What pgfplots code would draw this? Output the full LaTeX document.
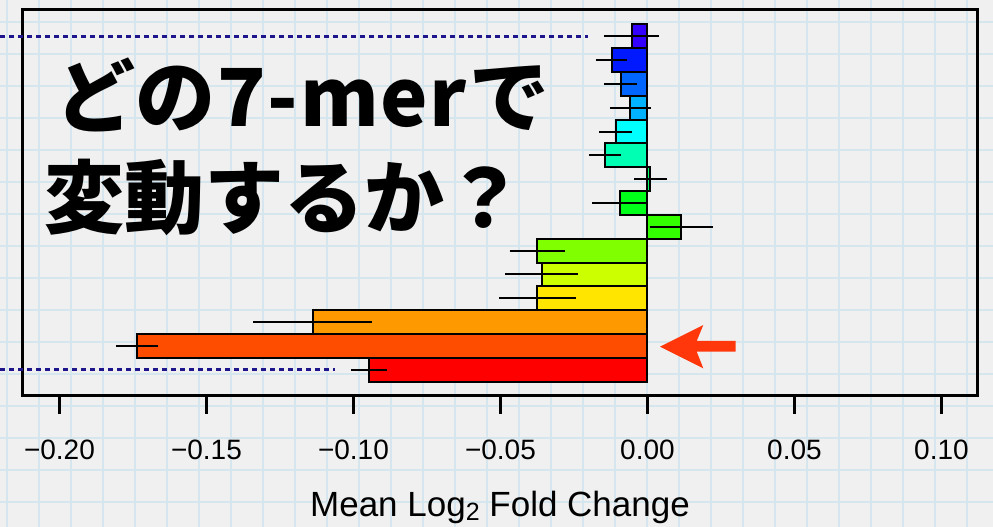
\documentclass[border=0pt]{standalone}
\usepackage{pgfplots}
\pgfplotsset{compat=1.18}
\usepackage{fontspec}
\setmainfont{Liberation Sans}
\newfontfamily\jp{Noto Sans CJK JP}

\definecolor{bgcol}{RGB}{240,240,240}
\definecolor{gridcol}{RGB}{214,230,239}
\definecolor{navydot}{RGB}{30,20,140}
\definecolor{arrowred}{RGB}{255,55,10}
% rainbow, red at the bottom to violet at the top
\definecolor{c01}{HTML}{FF0000}
\definecolor{c02}{HTML}{FF4D00}
\definecolor{c03}{HTML}{FF9900}
\definecolor{c04}{HTML}{FFE500}
\definecolor{c05}{HTML}{CCFF00}
\definecolor{c06}{HTML}{80FF00}
\definecolor{c07}{HTML}{33FF00}
\definecolor{c08}{HTML}{00FF19}
\definecolor{c09}{HTML}{00FF66}
\definecolor{c10}{HTML}{00FFB2}
\definecolor{c11}{HTML}{00FFFF}
\definecolor{c12}{HTML}{00B2FF}
\definecolor{c13}{HTML}{0066FF}
\definecolor{c14}{HTML}{0019FF}
\definecolor{c15}{HTML}{3300FF}

\pgfplotsset{
  kbar/.style={xbar, bar width=1, bar shift=0pt, draw=black, line width=2pt,
    error bars/x dir=both, error bars/x explicit, error bars/error mark=none,
    error bars/error bar style={line width=2pt, black}},
  dotline/.style={navydot, line width=3.2pt, dash pattern=on 5pt off 4pt, forget plot},
}

\begin{document}
\begin{tikzpicture}[x=1pt,y=1pt]
\useasboundingbox (0,0) rectangle (993,527);
\fill[bgcol] (0,0) rectangle (993,527);
% graph paper
\foreach \gx in {0,...,30}
  \draw[gridcol, line width=1.8pt] ({7.3+32*\gx},0) -- ({7.3+32*\gx},527);
\foreach \gy in {0,...,15}
  \draw[gridcol, line width=1.8pt] (0,{504.7-32*\gy}) -- (993,{504.7-32*\gy});

\begin{axis}[
  at={(23pt,131pt)}, anchor=south west,
  scale only axis, width=954pt, height=386pt,
  xmin=-0.2124, xmax=0.1121,
  ymin=-0.6, ymax=15.6,
  ytick=\empty,
  xtick={-0.2,-0.15,-0.1,-0.05,0,0.05,0.1},
  xticklabels={−0.20,−0.15,−0.10,−0.05,0.00,0.05,0.10},
  xtick pos=left, tick align=outside,
  major tick length=18pt,
  xtick style={line width=2.5pt, black},
  axis line style={line width=3pt},
  xticklabel style={font=\fontsize{28}{28}\selectfont, anchor=base, yshift=-46pt},
  xlabel={Mean Log\raisebox{-4pt}{\fontsize{25}{25}\selectfont 2} Fold Change},
  xlabel style={font=\fontsize{35}{35}\selectfont, inner sep=0pt,
    at={(axis description cs:0.5,0)}, anchor=base, yshift=-121pt},
  clip=false,
]
\addplot[dotline] coordinates {(-0.2202,14.5) (-0.0202,14.5)};
\addplot[dotline] coordinates {(-0.2202,0.5) (-0.1063,0.5)};

\addplot[kbar, fill=c15] coordinates {(-0.0054,14.5) +- (0.0093,0)};
\addplot[kbar, fill=c14] coordinates {(-0.0122,13.5) +- (0.0054,0)};
\addplot[kbar, fill=c13] coordinates {(-0.0091,12.5) +- (0.0057,0)};
\addplot[kbar, fill=c12] coordinates {(-0.0058,11.5) +- (0.0070,0)};
\addplot[kbar, fill=c11] coordinates {(-0.0108,10.5) +- (0.0056,0)};
\addplot[kbar, fill=c10] coordinates {(-0.0145,9.5) +- (0.0054,0)};
\addplot[kbar, fill=c09] coordinates {(0.0010,8.5) +- (0.0055,0)};
\addplot[kbar, fill=c08] coordinates {(-0.0094,7.5) +- (0.0094,0)};
\addplot[kbar, fill=c07] coordinates {(0.0115,6.5) +- (0.0108,0)};
\addplot[kbar, fill=c06] coordinates {(-0.0375,5.5) +- (0.0094,0)};
\addplot[kbar, fill=c05] coordinates {(-0.0360,4.5) +- (0.0123,0)};
\addplot[kbar, fill=c04] coordinates {(-0.0374,3.5) +- (0.0130,0)};
\addplot[kbar, fill=c03] coordinates {(-0.1139,2.5) +- (0.0202,0)};
\addplot[kbar, fill=c02] coordinates {(-0.1737,1.5) +- (0.0071,0)};
\addplot[kbar, fill=c01] coordinates {(-0.0947,0.5) +- (0.0060,0)};
\end{axis}

% arrow pointing at the second bar from the bottom
\fill[arrowred] (660,180.3) -- (703.3,202) -- (696.7,186) -- (735.7,186)
  -- (735.7,175.3) -- (696.7,175.3) -- (703.3,158.7) -- cycle;

\node[anchor=base west, inner sep=0, font=\jp\bfseries\fontsize{80}{80}\selectfont]
  at (55,400) {どの\kern2pt 7\kern2pt-\kern2pt m\kern1pt e\kern1pt r\kern3pt で};
\node[anchor=base west, inner sep=0, font=\jp\bfseries\fontsize{80}{80}\selectfont]
  at (44,299) {変動するか？};
\end{tikzpicture}
\end{document}
